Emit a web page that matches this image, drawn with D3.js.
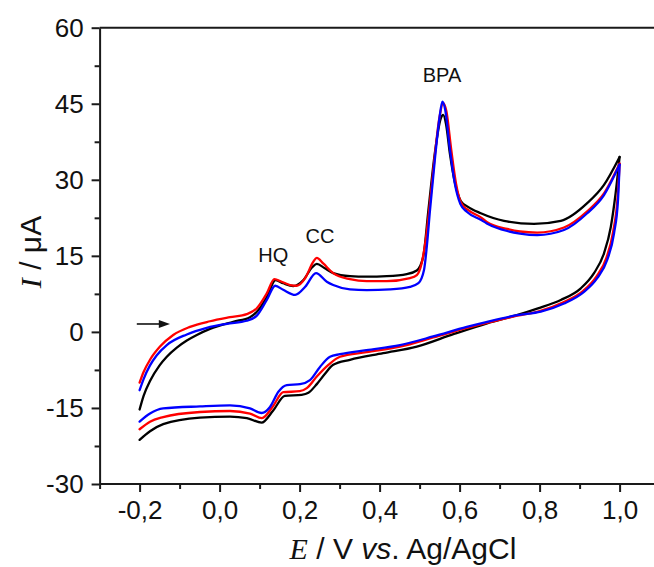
<!DOCTYPE html>
<html>
<head>
<meta charset="utf-8">
<script src="https://cdn.jsdelivr.net/npm/d3@7"></script>
<style>
body { margin: 0; background: #fff; }
svg text { font-family: "Liberation Sans", Arial, sans-serif; fill: #111; }
</style>
</head>
<body>
<svg id="chart" width="654" height="567"></svg>
<script>
// Данные: оси
var xMajor = [-0.2, 0.0, 0.2, 0.4, 0.6, 0.8, 1.0];
var xMinor = [-0.3, -0.1, 0.1, 0.3, 0.5, 0.7, 0.9, 1.1];
var xTickLabels = ['-0,2', '0,0', '0,2', '0,4', '0,6', '0,8', '1,0'];
var yMajor = [-30, -15, 0, 15, 30, 45, 60];
var yMinor = [-22.5, -7.5, 7.5, 22.5, 37.5, 52.5];
var yTickLabels = ['-30', '-15', '0', '15', '30', '45', '60'];
var peakNames = ['HQ', 'CC', 'BPA'];

// Данные: вольтамперограммы [E, I], прямой ход (-0,2 -> 1,0)
var blackForward = [[-0.200, -15.3], [-0.190, -12.6], [-0.174, -9.7], [-0.150, -6.6], [-0.132, -4.9], [-0.107, -3.1],
    [-0.082, -1.7], [-0.057, -0.6], [-0.024, 0.6], [0.034, 2.0], [0.076, 2.9], [0.097, 4.3], [0.118, 6.9], [0.140, 10.2],
    [0.159, 9.6], [0.184, 9.05], [0.209, 10.2], [0.232, 12.8], [0.243, 13.4], [0.262, 12.6], [0.284, 11.6], [0.326, 11.0],
    [0.368, 10.9], [0.418, 11.0], [0.468, 11.4], [0.493, 12.1], [0.509, 14.8], [0.522, 24.0], [0.538, 35.2], [0.553, 42.1],
    [0.559, 42.8], [0.566, 41.0], [0.576, 35.0], [0.588, 29.5], [0.603, 25.8], [0.620, 24.7], [0.653, 23.4], [0.711, 21.9],
    [0.786, 21.3], [0.853, 21.9], [0.919, 25.4], [0.961, 29.0], [1.000, 34.5]];
var redForward = [[-0.200, -10.0], [-0.190, -7.9], [-0.174, -5.5], [-0.149, -2.9], [-0.116, -0.6], [-0.074, 1.0],
    [-0.024, 2.1], [0.026, 2.9], [0.068, 3.5], [0.093, 4.65], [0.118, 7.6],
    [0.137, 10.4], [0.155, 9.9], [0.176, 9.25], [0.193, 9.1], [0.214, 10.6], [0.234, 13.8], [0.243, 14.6], [0.259, 13.5],
    [0.284, 11.6], [0.326, 10.4], [0.368, 10.0], [0.418, 10.0], [0.476, 10.6], [0.493, 11.2], [0.505, 13.5], [0.515, 18.0],
    [0.524, 24.0], [0.537, 34.0], [0.549, 42.0], [0.559, 45.1], [0.567, 43.5], [0.579, 36.0], [0.591, 29.3], [0.604, 25.4],
    [0.620, 24.1], [0.653, 22.6], [0.668, 21.7], [0.719, 20.3], [0.751, 19.8], [0.794, 19.6], [0.861, 20.6], [0.919, 23.8],
    [0.961, 27.3], [1.000, 33.2]];
var blueForward = [[-0.200, -11.5], [-0.190, -9.3], [-0.174, -6.6], [-0.157, -4.6], [-0.132, -2.6], [-0.082, -0.5],
    [-0.032, 0.8], [0.018, 1.6], [0.068, 2.2], [0.093, 3.2], [0.118, 6.3], [0.139, 9.1],
    [0.159, 8.3], [0.189, 7.3], [0.214, 8.9], [0.241, 11.6], [0.268, 9.9], [0.284, 9.25], [0.326, 8.4], [0.368, 8.25],
    [0.426, 8.4], [0.476, 8.9], [0.497, 9.6], [0.511, 12.2], [0.518, 16.8], [0.526, 24.0], [0.538, 33.9], [0.549, 41.8],
    [0.557, 45.4], [0.564, 43.8], [0.576, 35.9], [0.588, 29.3], [0.602, 25.2], [0.618, 23.7], [0.653, 22.1], [0.668, 21.4],
    [0.719, 19.9], [0.751, 19.4], [0.794, 19.1], [0.861, 20.1], [0.919, 23.4], [0.961, 27.0], [1.000, 33.0]];

// Обратный ход (1,0 -> -0,2)
var blackReverse = [[1.000, 34.5], [0.990, 27.3], [0.978, 20.7], [0.961, 15.5], [0.936, 11.6], [0.903, 8.6], [0.853, 6.3],
    [0.794, 4.6], [0.743, 3.3], [0.669, 1.7], [0.586, -0.4], [0.493, -2.9], [0.409, -4.2], [0.326, -5.5], [0.284, -6.5],
    [0.264, -8.2], [0.243, -10.3], [0.222, -12.0], [0.205, -12.4], [0.163, -12.6], [0.134, -15.5], [0.105, -17.9],
    [0.068, -17.0], [0.026, -16.7], [-0.049, -16.9], [-0.141, -18.2], [-0.174, -19.6], [-0.200, -21.3]];
var redReverse = [[1.000, 33.2], [0.995, 26.5], [0.984, 19.8], [0.967, 14.6], [0.942, 10.9], [0.909, 8.1], [0.858, 5.8],
    [0.800, 4.1], [0.744, 3.2], [0.669, 1.8], [0.618, 0.8], [0.534, -1.1], [0.451, -2.9], [0.367, -4.0], [0.301, -4.9],
    [0.272, -6.5], [0.243, -8.8], [0.218, -11.1], [0.200, -11.7], [0.159, -11.9], [0.134, -14.6], [0.106, -17.0],
    [0.076, -16.1], [0.026, -15.6], [-0.049, -15.8], [-0.141, -16.8], [-0.174, -17.7], [-0.200, -19.2]];
var blueReverse = [[1.000, 33.0], [0.996, 26.0], [0.986, 19.4], [0.969, 14.2], [0.944, 10.6], [0.911, 7.9], [0.861, 5.6],
    [0.803, 4.0], [0.744, 3.3], [0.669, 2.0], [0.618, 1.0], [0.534, -0.9], [0.451, -2.6], [0.367, -3.6], [0.301, -4.4],
    [0.276, -4.9], [0.251, -6.9], [0.226, -9.5], [0.201, -10.3], [0.168, -10.5], [0.147, -11.8], [0.126, -14.8],
    [0.105, -16.0], [0.076, -15.1], [0.026, -14.5], [-0.049, -14.7], [-0.141, -15.1], [-0.174, -16.1], [-0.200, -17.7]];

var curves = [
    { forward: blackForward, reverse: blackReverse, color: '#000000' },
    { forward: redForward, reverse: redReverse, color: '#ff0000' },
    { forward: blueForward, reverse: blueReverse, color: '#0000ff' }
];

var svg = d3.select('#chart');
var width = +svg.attr('width');

var x = d3.scaleLinear().domain([-0.3, 1.1]).range([99.6, 659.6]);
var y = d3.scaleLinear().domain([-30, 60]).range([484, 27.7]);

var axisColor = '#1a1a1a';

// Кривые
var line = d3.line()
    .x(d => x(d[0]))
    .y(d => y(d[1]))
    .curve(d3.curveMonotoneX);

curves.forEach(c => {
    [c.forward, c.reverse.slice().sort((a, b) => a[0] - b[0])].forEach(branch => {
        svg.append('path')
            .datum(branch)
            .attr('d', line)
            .attr('fill', 'none')
            .attr('stroke', c.color)
            .attr('stroke-width', 2.3)
            .attr('stroke-linejoin', 'round')
            .attr('stroke-linecap', 'round');
    });
});

// Рамка: верхняя линия
svg.append('line')
    .attr('x1', x(-0.3)).attr('x2', width)
    .attr('y1', y(60)).attr('y2', y(60))
    .attr('stroke', axisColor)
    .attr('stroke-width', 2);

// Ось X
var xAxis = svg.append('g')
    .attr('transform', `translate(0, ${y(-30)})`)
    .call(d3.axisBottom(x)
        .tickValues(xMajor)
        .tickSize(8)
        .tickSizeOuter(0)
        .tickPadding(9)
        .tickFormat((d, i) => xTickLabels[i]));

svg.append('g')
    .attr('transform', `translate(0, ${y(-30)})`)
    .call(d3.axisBottom(x)
        .tickValues(xMinor)
        .tickSize(5)
        .tickSizeOuter(0)
        .tickFormat(''))
    .select('.domain').remove();

// Ось Y
var yAxis = svg.append('g')
    .attr('transform', `translate(${x(-0.3)}, 0)`)
    .call(d3.axisLeft(y)
        .tickValues(yMajor)
        .tickSize(8)
        .tickSizeOuter(0)
        .tickPadding(8)
        .tickFormat((d, i) => yTickLabels[i]));

svg.append('g')
    .attr('transform', `translate(${x(-0.3)}, 0)`)
    .call(d3.axisLeft(y)
        .tickValues(yMinor)
        .tickSize(5)
        .tickSizeOuter(0)
        .tickFormat(''))
    .select('.domain').remove();

svg.selectAll('.domain, .tick line')
    .attr('stroke', axisColor)
    .attr('stroke-width', 2);

xAxis.select('.domain').attr('d', `M${x(-0.3)},0H${width}`);

[xAxis, yAxis].forEach(a => {
    a.attr('font-family', null).attr('font-size', null);
    a.selectAll('text')
        .style('font-size', '26px')
        .attr('fill', '#111');
});

// Подписи осей
var xTitle = svg.append('text')
    .attr('x', 403)
    .attr('y', 559)
    .attr('text-anchor', 'middle')
    .style('font-size', '30px');
xTitle.append('tspan')
    .style('font-family', '"Liberation Serif", "Times New Roman", serif')
    .style('font-style', 'italic')
    .text('E');
xTitle.append('tspan').text(' / V ');
xTitle.append('tspan').style('font-style', 'italic').text('vs');
xTitle.append('tspan').text('. Ag/AgCl');

var yTitle = svg.append('text')
    .attr('transform', 'translate(41, 252) rotate(-90)')
    .attr('text-anchor', 'middle')
    .style('font-size', '30px');
yTitle.append('tspan')
    .style('font-family', '"Liberation Serif", "Times New Roman", serif')
    .style('font-style', 'italic')
    .text('I');
yTitle.append('tspan').text(' / \u03bcA');

// Подписи пиков
var peakAt = [[0.134, 13.8], [0.251, 17.6], [0.556, 49.3]];
peakNames.forEach((name, i) => {
    svg.append('text')
        .attr('x', x(peakAt[i][0]))
        .attr('y', y(peakAt[i][1]))
        .attr('text-anchor', 'middle')
        .style('font-size', '20px')
        .text(name);
});

// Стрелка направления развертки
var arrowY = y(1.56);
svg.append('line')
    .attr('x1', x(-0.207)).attr('x2', x(-0.145))
    .attr('y1', arrowY).attr('y2', arrowY)
    .attr('stroke', '#111')
    .attr('stroke-width', 1.6);
svg.append('polygon')
    .attr('points', `${x(-0.124)},${arrowY} ${x(-0.152)},${arrowY - 4} ${x(-0.152)},${arrowY + 4}`)
    .attr('fill', '#111');
</script>
</body>
</html>
